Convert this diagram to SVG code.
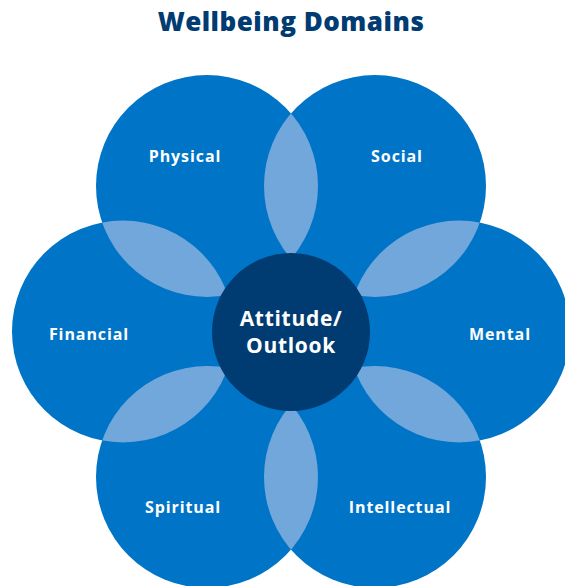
<svg xmlns="http://www.w3.org/2000/svg" width="565" height="586" viewBox="0 0 565 586">
<style>
.c{fill:#0074c7}
.lens{fill:#72a7db}
.lbl{font-family:"Open Sans","Liberation Sans",sans-serif;font-weight:700;font-size:16px;letter-spacing:0.9px;fill:#ffffff;text-anchor:middle}
.ctr{font-family:"Open Sans","Liberation Sans",sans-serif;font-weight:700;font-size:21px;letter-spacing:0.7px;fill:#ffffff;text-anchor:middle}
.title{font-family:"Open Sans","Liberation Sans",sans-serif;font-weight:800;font-size:26px;letter-spacing:0.5px;fill:#003b71;text-anchor:middle}
</style>
<defs>
<clipPath id="cpP"><circle cx="207" cy="186" r="111"/></clipPath>
<clipPath id="cpS"><circle cx="375" cy="186" r="111"/></clipPath>
<clipPath id="cpF"><circle cx="123" cy="331.5" r="111"/></clipPath>
<clipPath id="cpM"><circle cx="459" cy="331.5" r="111"/></clipPath>
<clipPath id="cpSp"><circle cx="207" cy="477" r="111"/></clipPath>
<clipPath id="cpI"><circle cx="375" cy="477" r="111"/></clipPath>
</defs>
<rect width="565" height="586" fill="#ffffff"/>
<text class="title" x="291" y="31">Wellbeing Domains</text>
<g id="physical"><circle class="c" cx="207" cy="186" r="111"/><text class="lbl" x="185" y="162">Physical</text></g>
<g id="social"><circle class="c" cx="375" cy="186" r="111"/><text class="lbl" x="397" y="162">Social</text></g>
<g id="financial"><circle class="c" cx="123" cy="331.5" r="111"/><text class="lbl" x="89" y="340">Financial</text></g>
<g id="mental"><circle class="c" cx="459" cy="331.5" r="111"/><text class="lbl" x="500" y="340">Mental</text></g>
<g id="spiritual"><circle class="c" cx="207" cy="477" r="111"/><text class="lbl" x="183" y="513">Spiritual</text></g>
<g id="intellectual"><circle class="c" cx="375" cy="477" r="111"/><text class="lbl" x="400" y="513">Intellectual</text></g>
<g id="overlaps">
<circle class="lens" cx="375" cy="186" r="111" clip-path="url(#cpP)"/>
<circle class="lens" cx="459" cy="331.5" r="111" clip-path="url(#cpS)"/>
<circle class="lens" cx="375" cy="477" r="111" clip-path="url(#cpM)"/>
<circle class="lens" cx="207" cy="477" r="111" clip-path="url(#cpI)"/>
<circle class="lens" cx="123" cy="331.5" r="111" clip-path="url(#cpSp)"/>
<circle class="lens" cx="207" cy="186" r="111" clip-path="url(#cpF)"/>
</g>
<g id="attitude"><circle cx="291" cy="332" r="79" fill="#003b71"/><text class="ctr" x="291" y="326">Attitude/</text><text class="ctr" x="291" y="353">Outlook</text></g>
</svg>
